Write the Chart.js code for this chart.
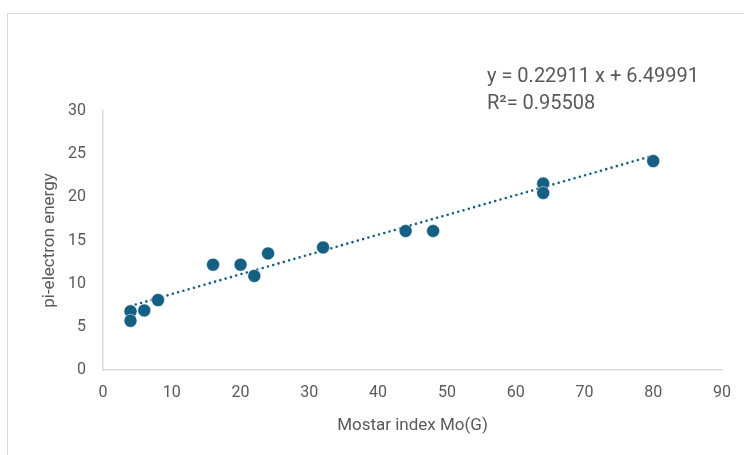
<!DOCTYPE html>
<html>
<head>
<meta charset="utf-8">
<script src="https://cdn.jsdelivr.net/npm/chart.js@4.4.1/dist/chart.umd.min.js"></script>
<style>
  html, body { margin: 0; padding: 0; background: #fff; }
  #wrap { position: relative; width: 744px; height: 455px; overflow: hidden; }
  #frame { position: absolute; left: 7px; top: 13px; width: 800px; height: 500px;
           border-left: 1.5px solid #d9d9d9; border-top: 1.5px solid #d9d9d9; }
  canvas { position: absolute; left: 0; top: 0; }
</style>
</head>
<body>
<div id="wrap">
  <div id="frame"></div>
  <canvas id="chart" width="744" height="455"></canvas>
</div>
<script>
// mostar index vs pi-electron energy

var mostarIndex = [4, 4, 6, 8, 16, 20, 22, 24, 32, 44, 48, 64, 64, 80];
var piEnergy = [6.8, 5.7, 6.9, 8.1, 12.2, 12.2, 10.9, 13.5, 14.2, 16.1, 16.1, 21.6, 20.5, 24.2];

// trendline as printed on the chart
var slope = 0.22911;
var intercept = 6.49991;
var rSquared = 0.95508;
var trendX = [4, 80];

var xTicks = [0, 10, 20, 30, 40, 50, 60, 70, 80, 90];
var yTicks = [0, 5, 10, 15, 20, 25, 30];

var points = mostarIndex.map(function (x, i) {
    return { x: x, y: piEnergy[i] };
});
var trend = trendX.map(function (x) {
    return { x: x, y: slope * x + intercept };
});

var textColor = '#595959';
var lineColor = '#d9d9d9';
var markColor = '#156082';
var fontFamily = 'Roboto, "Liberation Sans", sans-serif';

var equationLabel = {
    id: 'equationLabel',
    afterDraw: function (chart) {
        var ctx = chart.ctx;
        ctx.save();
        ctx.fillStyle = textColor;
        ctx.font = '20px ' + fontFamily;
        ctx.textBaseline = 'middle';
        ctx.fillText('y = ' + slope + ' x + ' + intercept, 487, 77);
        ctx.fillText('R\u00B2= ' + rSquared, 487, 104);
        ctx.restore();
    }
};

new Chart(document.getElementById('chart'), {
    type: 'scatter',
    data: {
        datasets: [
            {
                label: 'pi-electron energy',
                data: points,
                backgroundColor: markColor,
                borderColor: '#ffffff',
                borderWidth: 0.5,
                pointRadius: 6.5,
                pointHoverRadius: 6.5,
                order: 1
            },
            {
                label: 'Linear trend',
                type: 'line',
                data: trend,
                borderColor: markColor,
                borderWidth: 2.6,
                borderDash: [0, 5.5],
                borderCapStyle: 'round',
                pointRadius: 0,
                fill: false,
                order: 2
            }
        ]
    },
    options: {
        responsive: false,
        animation: false,
        layout: {
            padding: { left: 0, right: 20, top: 111, bottom: 0 }
        },
        plugins: {
            legend: { display: false },
            tooltip: { enabled: false }
        },
        scales: {
            x: {
                type: 'linear',
                min: 0,
                max: 90,
                afterBuildTicks: function (axis) {
                    axis.ticks = xTicks.map(function (v) { return { value: v }; });
                },
                afterFit: function (axis) { axis.height = 85; },
                grid: { display: false, drawTicks: false },
                border: { display: true, color: lineColor, width: 1.5 },
                ticks: {
                    color: textColor,
                    font: { family: fontFamily, size: 16 },
                    padding: 13,
                    maxRotation: 0
                },
                title: {
                    display: true,
                    text: 'Mostar index Mo(G)',
                    color: textColor,
                    font: { family: fontFamily, size: 17 },
                    padding: { top: 0, bottom: 19 }
                }
            },
            y: {
                type: 'linear',
                min: 0,
                max: 30,
                afterBuildTicks: function (axis) {
                    axis.ticks = yTicks.map(function (v) { return { value: v }; });
                },
                afterFit: function (axis) { axis.width = 103; },
                grid: { display: false, drawTicks: false },
                border: { display: true, color: lineColor, width: 1.5 },
                ticks: {
                    color: textColor,
                    font: { family: fontFamily, size: 16 },
                    padding: 17
                },
                title: {
                    display: true,
                    text: 'pi-electron energy',
                    color: textColor,
                    font: { family: fontFamily, size: 17 },
                    padding: { top: 40, bottom: 0 }
                }
            }
        }
    },
    plugins: [equationLabel]
});
</script>
</body>
</html>
